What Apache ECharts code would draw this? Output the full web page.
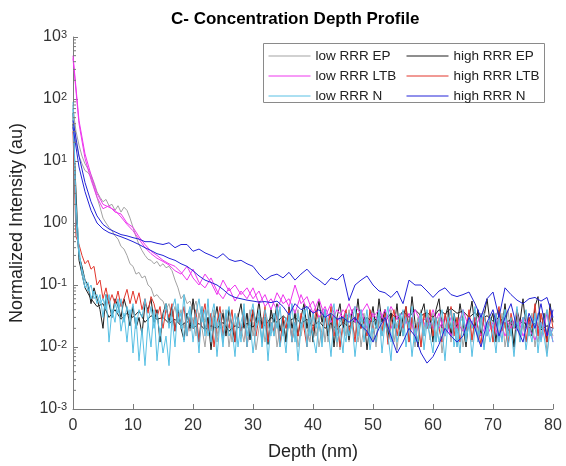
<!DOCTYPE html>
<html>
<head>
<meta charset="utf-8">
<script src="https://cdn.jsdelivr.net/npm/echarts@6/dist/echarts.min.js"></script>
<style>html,body{margin:0;padding:0;background:#fff}#c{width:566px;height:466px}</style>
</head>
<body>
<div id="c"></div>
<script>
// ---------- data ----------
const depthFine = [
0,0.5,1,1.5,2,2.5,3,3.5,4,4.5,
5,5.5,6,6.5,7,7.5,8,8.5,9,9.5,
10,10.5,11,11.5,12,12.5,13,13.5,14,14.5,
15,15.5,16,16.5,17,17.5,18,18.5,19,19.5,
20,20.5,21,21.5,22,22.5,23,23.5,24,24.5,
25,25.5,26,26.5,27,27.5,28,28.5,29,29.5,
30,30.5,31,31.5,32,32.5,33,33.5,34,34.5,
35,35.5,36,36.5,37,37.5,38,38.5,39,39.5,
40,40.5,41,41.5,42,42.5,43,43.5,44,44.5,
45,45.5,46,46.5,47,47.5,48,48.5,49,49.5,
50,50.5,51,51.5,52,52.5,53,53.5,54,54.5,
55,55.5,56,56.5,57,57.5,58,58.5,59,59.5,
60,60.5,61,61.5,62,62.5,63,63.5,64,64.5,
65,65.5,66,66.5,67,67.5,68,68.5,69,69.5,
70,70.5,71,71.5,72,72.5,73,73.5,74,74.5,
75,75.5,76,76.5,77,77.5,78,78.5,79,79.5,
80];
const depthCoarse = [
0,1,2,3,4,5,6,7,8,9,
10,11,12,13,14,15,16,17,18,19,
20,21,22,23,24,25,26,27,28,29,
30,31,32,33,34,35,36,37,38,39,
40,41,42,43,44,45,46,47,48,49,
50,51,52,53,54,55,56,57,58,59,
60,61,62,63,64,65,66,67,68,69,
70,71,72,73,74,75,76,77,78,79,
80];

// low RRR EP (grey), two measurements, fine grid
const lowEP_a = [
80,20,12,9,7,6.5,5.5,3.8,2.6,1.8,
1.2,1.0,0.85,0.75,0.62,0.55,0.42,0.38,0.3,0.22,
0.2,0.15,0.16,0.13,0.14,0.1,0.09,0.065,0.07,0.06,
0.055,0.04,0.05,0.03,0.045,0.025,0.04,0.02,0.035,0.018,
0.03,0.015,0.035,0.02,0.01,0.03,0.018,0.04,0.012,0.025,
0.02,0.035,0.01,0.025,0.015,0.03,0.02,0.012,0.035,0.015,
0.025,0.009,0.02,0.03,0.012,0.025,0.018,0.035,0.01,0.02,
0.03,0.012,0.025,0.015,0.04,0.01,0.02,0.03,0.012,0.025,
0.015,0.03,0.01,0.02,0.035,0.012,0.025,0.018,0.03,0.009,
0.02,0.03,0.012,0.025,0.015,0.035,0.01,0.022,0.03,0.014,
0.025,0.01,0.03,0.018,0.04,0.012,0.02,0.03,0.009,0.025,
0.015,0.035,0.012,0.025,0.018,0.03,0.01,0.02,0.035,0.013,
0.025,0.015,0.03,0.008,0.02,0.035,0.012,0.025,0.018,0.03,
0.01,0.02,0.03,0.012,0.025,0.015,0.035,0.01,0.02,0.03,
0.012,0.025,0.015,0.035,0.01,0.02,0.03,0.009,0.025,0.015,
0.03,0.012,0.02,0.035,0.01,0.025,0.015,0.03,0.008,0.02,
0.015];
const lowEP_b = [
70,30,18,12,9,7.5,6,4.5,3.2,2.6,
2.2,2.4,1.9,2.0,1.6,1.9,1.5,1.8,1.6,1.2,
0.85,0.6,0.45,0.36,0.3,0.26,0.25,0.22,0.24,0.2,
0.22,0.19,0.2,0.17,0.12,0.09,0.06,0.07,0.05,0.055,
0.04,0.055,0.03,0.045,0.025,0.04,0.02,0.035,0.015,0.03,
0.04,0.02,0.03,0.012,0.025,0.035,0.015,0.03,0.02,0.04,
0.015,0.025,0.035,0.012,0.03,0.02,0.04,0.015,0.025,0.01,
0.03,0.02,0.035,0.012,0.025,0.04,0.015,0.03,0.02,0.012,
0.035,0.015,0.025,0.04,0.012,0.03,0.02,0.035,0.01,0.025,
0.03,0.015,0.04,0.02,0.03,0.012,0.025,0.035,0.015,0.03,
0.012,0.025,0.035,0.015,0.03,0.02,0.04,0.012,0.025,0.03,
0.015,0.035,0.02,0.03,0.01,0.025,0.04,0.015,0.03,0.02,
0.035,0.012,0.025,0.03,0.015,0.04,0.02,0.03,0.01,0.025,
0.03,0.015,0.035,0.02,0.025,0.012,0.03,0.04,0.015,0.025,
0.02,0.035,0.012,0.03,0.02,0.04,0.015,0.025,0.03,0.012,
0.025,0.035,0.015,0.03,0.02,0.012,0.03,0.025,0.04,0.015,
0.02];

// high RRR EP (black): noisy (fine grid) and smoother (coarse grid)
const highEP_a = [
60,1.2,0.3,0.2,0.12,0.1,0.05,0.09,0.06,0.04,
0.02,0.07,0.05,0.03,0.06,0.045,0.03,0.06,0.04,0.022,
0.045,0.02,0.03,0.016,0.05,0.04,0.06,0.025,0.04,0.012,
0.035,0.05,0.025,0.045,0.018,0.04,0.02,0.013,0.035,0.02,
0.06,0.025,0.012,0.04,0.018,0.03,0.009,0.025,0.045,0.02,
0.035,0.015,0.04,0.022,0.012,0.03,0.05,0.02,0.035,0.013,
0.04,0.025,0.055,0.02,0.03,0.011,0.04,0.025,0.05,0.018,
0.03,0.012,0.045,0.02,0.035,0.015,0.03,0.05,0.02,0.04,
0.012,0.03,0.055,0.025,0.04,0.015,0.035,0.01,0.03,0.05,
0.02,0.035,0.013,0.04,0.025,0.06,0.02,0.03,0.009,0.025,
0.045,0.02,0.06,0.025,0.04,0.014,0.035,0.02,0.05,0.015,
0.03,0.045,0.02,0.065,0.025,0.01,0.035,0.05,0.02,0.03,
0.012,0.04,0.06,0.02,0.03,0.045,0.015,0.035,0.02,0.05,
0.025,0.01,0.03,0.055,0.02,0.04,0.015,0.03,0.06,0.025,
0.035,0.012,0.04,0.02,0.05,0.018,0.03,0.01,0.04,0.025,
0.06,0.02,0.03,0.015,0.045,0.065,0.02,0.035,0.012,0.05,
0.025];
const highEP_b = [
40,0.25,0.09,0.06,0.045,0.05,0.03,0.04,0.028,0.035,
0.03,0.038,0.025,0.032,0.028,0.03,0.024,0.028,0.022,0.026,
0.02,0.024,0.019,0.022,0.02,0.025,0.018,0.022,0.02,0.024,
0.021,0.028,0.022,0.03,0.025,0.032,0.026,0.03,0.024,0.028,
0.022,0.026,0.02,0.024,0.019,0.025,0.021,0.028,0.022,0.03,
0.025,0.032,0.026,0.035,0.028,0.038,0.03,0.04,0.032,0.036,
0.03,0.04,0.034,0.042,0.035,0.038,0.03,0.036,0.028,0.032,
0.026,0.03,0.024,0.028,0.022,0.026,0.02,0.024,0.019,0.022,
0.02];

// low RRR LTB (magenta), two measurements, coarse grid
const lowLTB_a = [
500,45,13,6,3.0,2.0,1.8,1.6,1.25,0.95,
0.75,0.55,0.4,0.32,0.27,0.24,0.21,0.17,0.15,0.2,
0.13,0.1,0.15,0.11,0.07,0.12,0.08,0.1,0.07,0.09,
0.06,0.08,0.045,0.06,0.04,0.07,0.045,0.1,0.05,0.065,
0.035,0.06,0.03,0.05,0.025,0.04,0.03,0.045,0.035,0.05,
0.03,0.04,0.025,0.045,0.03,0.035,0.02,0.04,0.025,0.03,
0.02,0.035,0.015,0.03,0.02,0.04,0.02,0.03,0.015,0.025,
0.02,0.03,0.015,0.025,0.018,0.03,0.02,0.013,0.025,0.015,
0.02];
const lowLTB_b = [
450,40,11,5,2.6,1.7,1.9,1.5,1.4,1.0,
0.85,0.6,0.45,0.35,0.3,0.25,0.22,0.2,0.16,0.12,
0.18,0.11,0.09,0.13,0.08,0.06,0.09,0.055,0.08,0.06,
0.09,0.05,0.07,0.04,0.075,0.05,0.06,0.035,0.07,0.04,
0.055,0.03,0.045,0.025,0.04,0.03,0.05,0.025,0.04,0.02,
0.035,0.025,0.04,0.02,0.03,0.02,0.035,0.015,0.03,0.02,
0.04,0.02,0.03,0.015,0.025,0.018,0.03,0.02,0.035,0.015,
0.025,0.013,0.03,0.02,0.035,0.015,0.025,0.03,0.013,0.035,
0.012];

// high RRR LTB (red), fine grid
const highLTB = [
30,0.6,0.45,0.3,0.22,0.25,0.18,0.2,0.1,0.12,
0.06,0.09,0.05,0.07,0.05,0.08,0.045,0.06,0.085,0.05,
0.08,0.05,0.075,0.04,0.06,0.035,0.065,0.05,0.03,0.045,
0.02,0.04,0.03,0.05,0.018,0.035,0.025,0.045,0.015,0.03,
0.02,0.04,0.012,0.03,0.05,0.018,0.035,0.01,0.025,0.045,
0.015,0.03,0.02,0.04,0.012,0.028,0.018,0.035,0.01,0.025,
0.04,0.015,0.03,0.02,0.045,0.012,0.025,0.018,0.035,0.011,
0.03,0.02,0.04,0.012,0.025,0.015,0.035,0.02,0.01,0.03,
0.018,0.04,0.025,0.012,0.03,0.02,0.045,0.015,0.028,0.01,
0.025,0.04,0.018,0.03,0.012,0.035,0.02,0.025,0.015,0.04,
0.02,0.012,0.03,0.018,0.035,0.011,0.025,0.04,0.015,0.03,
0.02,0.045,0.012,0.03,0.018,0.025,0.01,0.035,0.02,0.04,
0.015,0.03,0.02,0.012,0.035,0.02,0.045,0.015,0.03,0.012,
0.025,0.018,0.04,0.013,0.03,0.02,0.011,0.035,0.02,0.028,
0.012,0.03,0.045,0.018,0.025,0.01,0.035,0.02,0.04,0.015,
0.025,0.012,0.03,0.02,0.05,0.015,0.035,0.02,0.012,0.04,
0.02];

// low RRR N (light blue), two measurements, fine grid
const lowN_a = [
90,2,0.4,0.15,0.09,0.11,0.06,0.08,0.05,0.07,
0.03,0.07,0.012,0.04,0.025,0.06,0.018,0.035,0.012,0.04,
0.008,0.03,0.006,0.02,0.005,0.025,0.01,0.04,0.006,0.02,
0.008,0.015,0.005,0.03,0.01,0.05,0.02,0.07,0.015,0.04,
0.012,0.03,0.008,0.045,0.015,0.06,0.012,0.03,0.007,0.025,
0.01,0.04,0.015,0.02,0.007,0.03,0.012,0.05,0.01,0.025,
0.008,0.02,0.04,0.01,0.03,0.006,0.025,0.015,0.045,0.01,
0.02,0.008,0.035,0.012,0.025,0.006,0.02,0.04,0.01,0.03,
0.015,0.008,0.025,0.012,0.04,0.02,0.007,0.03,0.012,0.02,
0.008,0.035,0.015,0.025,0.007,0.02,0.04,0.012,0.03,0.009,
0.02,0.012,0.035,0.008,0.025,0.015,0.006,0.03,0.012,0.02,
0.04,0.01,0.025,0.007,0.02,0.012,0.035,0.009,0.025,0.015,
0.008,0.03,0.012,0.02,0.006,0.025,0.04,0.01,0.02,0.008,
0.03,0.012,0.025,0.007,0.02,0.015,0.035,0.009,0.025,0.012,
0.02,0.008,0.03,0.012,0.04,0.01,0.02,0.007,0.025,0.015,
0.03,0.009,0.02,0.012,0.035,0.008,0.025,0.015,0.007,0.02,
0.012];
const lowN_b = [
70,1.0,0.3,0.18,0.12,0.08,0.1,0.06,0.07,0.05,
0.06,0.04,0.07,0.03,0.05,0.035,0.06,0.025,0.045,0.03,
0.05,0.02,0.04,0.03,0.06,0.025,0.045,0.02,0.035,0.015,
0.03,0.05,0.02,0.04,0.06,0.025,0.035,0.012,0.03,0.045,
0.02,0.035,0.06,0.025,0.04,0.015,0.03,0.05,0.02,0.035,
0.012,0.03,0.045,0.02,0.035,0.01,0.025,0.04,0.015,0.03,
0.05,0.02,0.03,0.012,0.04,0.025,0.015,0.035,0.02,0.045,
0.015,0.03,0.02,0.05,0.012,0.035,0.02,0.03,0.045,0.015,
0.035,0.02,0.03,0.01,0.04,0.02,0.03,0.05,0.015,0.03,
0.02,0.012,0.035,0.025,0.045,0.015,0.03,0.02,0.04,0.012,
0.03,0.02,0.04,0.015,0.025,0.045,0.012,0.03,0.02,0.035,
0.015,0.03,0.02,0.045,0.012,0.025,0.035,0.015,0.04,0.02,
0.03,0.012,0.025,0.04,0.015,0.03,0.02,0.035,0.01,0.025,
0.04,0.015,0.03,0.02,0.045,0.012,0.025,0.035,0.015,0.03,
0.02,0.035,0.012,0.025,0.04,0.015,0.03,0.02,0.045,0.012,
0.025,0.04,0.015,0.03,0.02,0.035,0.012,0.025,0.04,0.015,
0.02];

// high RRR N (dark blue), two measurements, coarse grid
const highN_a = [
45,12,4.5,2.2,1.3,0.95,0.8,0.72,0.65,0.62,
0.58,0.55,0.5,0.5,0.47,0.45,0.48,0.4,0.45,0.45,
0.35,0.38,0.33,0.3,0.27,0.32,0.26,0.24,0.25,0.22,
0.2,0.15,0.12,0.14,0.15,0.13,0.16,0.12,0.15,0.18,
0.14,0.12,0.1,0.13,0.12,0.15,0.056,0.1,0.12,0.14,
0.1,0.08,0.075,0.063,0.08,0.05,0.12,0.1,0.1,0.08,
0.063,0.08,0.09,0.07,0.065,0.07,0.077,0.05,0.03,0.06,
0.077,0.03,0.09,0.07,0.057,0.05,0.06,0.063,0.055,0.063,
0.03];
const highN_b = [
35,8,3.2,1.6,1.0,0.8,0.7,0.65,0.6,0.55,
0.5,0.45,0.4,0.36,0.32,0.3,0.27,0.25,0.22,0.2,
0.17,0.14,0.12,0.11,0.1,0.085,0.07,0.063,0.06,0.057,
0.055,0.053,0.054,0.052,0.055,0.045,0.033,0.05,0.04,0.045,
0.035,0.04,0.03,0.035,0.028,0.03,0.025,0.03,0.022,0.018,
0.012,0.02,0.03,0.015,0.008,0.012,0.02,0.015,0.008,0.0055,
0.007,0.011,0.02,0.015,0.012,0.015,0.03,0.02,0.01,0.025,
0.04,0.015,0.03,0.05,0.02,0.012,0.035,0.02,0.05,0.015,
0.04];

const minorTickVals = [
0.002,0.003,0.004,0.005,0.006,0.007,0.008,0.009,
0.02,0.03,0.04,0.05,0.06,0.07,0.08,0.09,
0.2,0.3,0.4,0.5,0.6,0.7,0.8,0.9,
2,3,4,5,6,7,8,9,
20,30,40,50,60,70,80,90,
200,300,400,500,600,700,800,900];

const xTicks = [0,10,20,30,40,50,60,70,80];
const legendLow = ['low RRR EP','low RRR LTB','low RRR N'];
const legendHigh = ['high RRR EP','high RRR LTB','high RRR N'];

// ---------- chart ----------
const FONT = '"Liberation Sans", Arial, Helvetica, sans-serif';
const C = {
  'low RRR EP': '#a3a3a3',
  'high RRR EP': '#1e1e1e',
  'low RRR LTB': '#ee36ee',
  'high RRR LTB': '#e2352b',
  'low RRR N': '#58c0e4',
  'high RRR N': '#2323d8'
};
function pairs(xs, ys) {
  const n = Math.min(xs.length, ys.length), out = [];
  for (let i = 0; i < n; i++) out.push([xs[i], ys[i]]);
  return out;
}
function lineSeries(name, xs, ys) {
  return {
    type: 'line', name: name, data: pairs(xs, ys),
    symbol: 'none', showSymbol: false, smooth: false,
    lineStyle: { color: C[name], width: 1 },
    itemStyle: { color: C[name] },
    emphasis: { disabled: true }
  };
}
const legendCommon = {
  orient: 'vertical', top: 49, z: 5, padding: 0,
  itemWidth: 42, itemHeight: 13, itemGap: 6, selectedMode: false,
  itemStyle: { opacity: 0, borderWidth: 0 },
  lineStyle: { width: 1 },
  textStyle: { fontFamily: FONT, fontSize: 13.5, color: '#222' }
};

const chart = echarts.init(document.getElementById('c'), null, { renderer: 'canvas' });
const option = {
  animation: false,
  backgroundColor: '#ffffff',
  title: {
    text: 'C- Concentration Depth Profile',
    left: 171, top: 11, padding: 0,
    textStyle: { fontFamily: FONT, fontSize: 17, fontWeight: 'bold', color: '#000' }
  },
  graphic: [{
    type: 'rect', z: 3, silent: true,
    shape: { x: 263.5, y: 43.5, width: 281, height: 59 },
    style: { fill: '#ffffff', stroke: '#8a8a8a', lineWidth: 1 }
  }],
  legend: [
    Object.assign({}, legendCommon, { data: legendLow, left: 268 }),
    Object.assign({}, legendCommon, { data: legendHigh, left: 406 })
  ],
  grid: { left: 73, right: 13, top: 37, bottom: 53, containLabel: false },
  xAxis: {
    type: 'value', min: 0, max: 80, interval: 10,
    name: 'Depth (nm)', nameLocation: 'middle', nameGap: 34,
    nameTextStyle: { fontFamily: FONT, fontSize: 18, color: '#222' },
    axisLine: { show: true, lineStyle: { color: '#7a7a7a', width: 1 } },
    axisTick: { show: true, inside: true, length: 5, lineStyle: { color: '#7a7a7a' } },
    axisLabel: { fontFamily: FONT, fontSize: 16, color: '#333', margin: 9,
      customValues: xTicks },
    splitLine: { show: false }
  },
  yAxis: {
    type: 'log', logBase: 10, min: 0.001, max: 1000, splitNumber: 6,
    name: 'Normalized Intensity (au)', nameLocation: 'middle', nameGap: 47,
    nameTextStyle: { fontFamily: FONT, fontSize: 18, color: '#222' },
    axisLine: { show: true, lineStyle: { color: '#7a7a7a', width: 1 } },
    axisTick: { show: true, inside: true, length: 5, lineStyle: { color: '#7a7a7a' } },
    axisLabel: {
      margin: 6,
      formatter: function (v) {
        const e = Math.round(Math.log10(v));
        return '{b|10}{e|' + e + '}';
      },
      rich: {
        b: { fontFamily: FONT, fontSize: 16, color: '#333', lineHeight: 16, verticalAlign: 'bottom' },
        e: { fontFamily: FONT, fontSize: 11, color: '#333', lineHeight: 11, verticalAlign: 'top', padding: [0, 0, 8, 0] }
      }
    },
    splitLine: { show: false }
  },
  series: [
    lineSeries('low RRR EP', depthFine, lowEP_a),
    lineSeries('low RRR EP', depthFine, lowEP_b),
    lineSeries('high RRR EP', depthFine, highEP_a),
    lineSeries('high RRR EP', depthCoarse, highEP_b),
    lineSeries('low RRR LTB', depthCoarse, lowLTB_a),
    lineSeries('low RRR LTB', depthCoarse, lowLTB_b),
    lineSeries('high RRR LTB', depthFine, highLTB),
    lineSeries('low RRR N', depthFine, lowN_a),
    lineSeries('low RRR N', depthFine, lowN_b),
    lineSeries('high RRR N', depthCoarse, highN_a),
    lineSeries('high RRR N', depthCoarse, highN_b),
    {
      type: 'custom', name: 'minorTicks', silent: true, z: 6,
      data: minorTickVals.map(function (v) { return [0, v]; }),
      renderItem: function (params, api) {
        const p = api.coord([api.value(0), api.value(1)]);
        return { type: 'line', shape: { x1: p[0], y1: p[1], x2: p[0] + 3, y2: p[1] },
          style: { stroke: '#7a7a7a', lineWidth: 1 } };
      }
    }
  ]
};
chart.setOption(option);
</script>
</body>
</html>
